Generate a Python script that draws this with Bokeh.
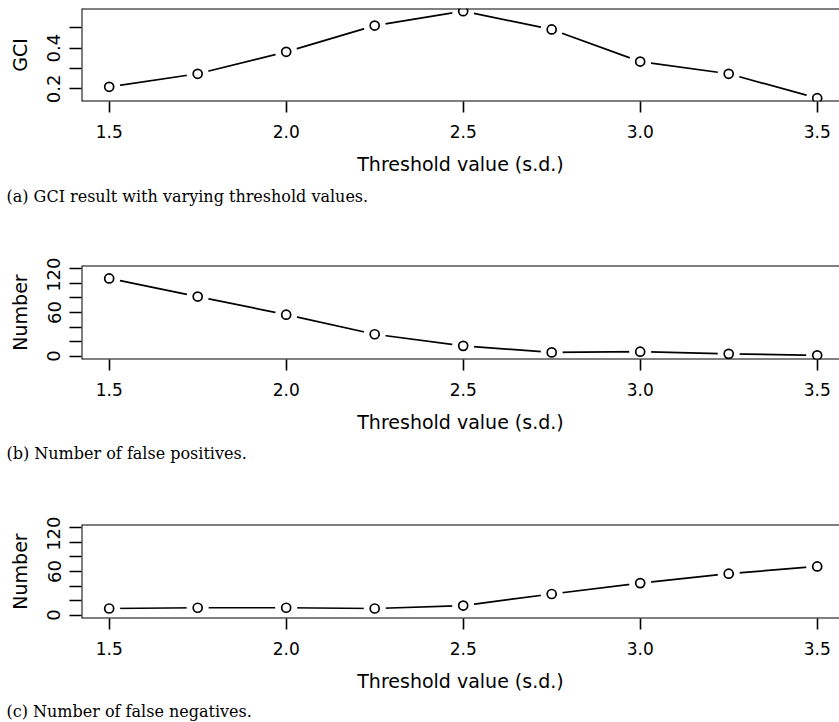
from bokeh.plotting import figure
from bokeh.layouts import column
from bokeh.models import Range1d, FixedTicker, NumeralTickFormatter, Span, Title
from bokeh.embed import file_html
from bokeh.resources import INLINE

thresholds = [1.5, 1.75, 2.0, 2.25, 2.5, 2.75, 3.0, 3.25, 3.5]
gci = [0.21, 0.274, 0.382, 0.511, 0.582, 0.492, 0.334, 0.274, 0.154]
false_pos = [107, 82, 57, 30, 14, 5, 6, 3, 1]
false_neg = [9, 10, 10, 9, 13, 29, 44, 57, 67]

x_ticks = [1.5, 2.0, 2.5, 3.0, 3.5]
gci_major = [0.2, 0.4]
gci_minor = [0.3, 0.5]
num_major = [0, 60, 120]
num_minor = [20, 40, 80, 100]

x_title = "Threshold value (s.d.)"
captions = ["(a) GCI result with varying threshold values.",
            "(b) Number of false positives.",
            "(c) Number of false negatives."]

SANS = "DejaVu Sans"
SERIF = "DejaVu Serif"
X0, X1 = 1.4218, 3.563


def panel(ys, yr, major, minor, yfmt, ylabel, caption, frame_h, bottom, cap_standoff):
    p = figure(frame_width=758, frame_height=frame_h, min_border_left=81,
               min_border_right=0, min_border_top=8, min_border_bottom=bottom,
               x_range=Range1d(X0, X1), y_range=Range1d(*yr),
               output_backend="svg", toolbar_location=None,
               background_fill_color="white", border_fill_color="white")
    p.outline_line_color = None
    p.grid.visible = False

    xa = p.xaxis[0]
    xa.ticker = FixedTicker(ticks=x_ticks)
    xa.formatter = NumeralTickFormatter(format="0.0")
    xa.axis_line_color = None
    xa.major_tick_in = 0
    xa.major_tick_out = 11
    xa.major_tick_line_width = 1.6
    xa.minor_tick_line_color = None
    xa.major_label_text_font = SANS
    xa.major_label_text_font_size = "17px"
    xa.major_label_text_color = "black"
    xa.major_label_standoff = 12
    xa.axis_label = x_title
    xa.axis_label_text_font = SANS
    xa.axis_label_text_font_size = "19px"
    xa.axis_label_text_font_style = "normal"
    xa.axis_label_text_color = "black"
    xa.axis_label_standoff = 12

    ya = p.yaxis[0]
    ya.ticker = FixedTicker(ticks=major, minor_ticks=minor)
    ya.formatter = NumeralTickFormatter(format=yfmt)
    ya.axis_line_color = None
    ya.major_tick_in = 0
    ya.major_tick_out = 12
    ya.minor_tick_in = 0
    ya.minor_tick_out = 12
    ya.major_tick_line_width = 1.6
    ya.minor_tick_line_width = 1.6
    ya.minor_tick_line_color = "black"
    ya.major_label_orientation = "vertical"
    ya.major_label_text_font = SANS
    ya.major_label_text_font_size = "18px"
    ya.major_label_text_color = "black"
    ya.major_label_standoff = 9
    ya.axis_label = ylabel
    ya.axis_label_text_font = SANS
    ya.axis_label_text_font_size = "19px"
    ya.axis_label_text_font_style = "normal"
    ya.axis_label_text_color = "black"
    ya.axis_label_standoff = 14

    p.line(thresholds, ys, line_color="black", line_width=1.7)
    p.scatter(thresholds, ys, size=22, fill_color="white", line_color=None)
    p.scatter(thresholds, ys, size=9, fill_color="white", line_color="black",
              line_width=1.7)

    for loc in yr:
        p.add_layout(Span(location=loc, dimension="width", line_color="black",
                          line_width=2))
    p.add_layout(Span(location=X0, dimension="height", line_color="black",
                      line_width=2))

    p.add_layout(Title(text=caption, align="left", offset=-75,
                       standoff=cap_standoff, text_font=SERIF,
                       text_font_size="16px", text_font_style="normal",
                       text_color="black"), "below")
    return p


p1 = panel(gci, (0.1377, 0.595), gci_major, gci_minor, "0.0", "GCI",
           captions[0], 93, 156, 15)
p2 = panel(false_pos, (-4.8, 124.8), num_major, num_minor, "0", "Number",
           captions[1], 94, 157, 12)
p3 = panel(false_neg, (-4.8, 124.8), num_major, num_minor, "0", "Number",
           captions[2], 94, 104, 11)

layout = column(p1, p2, p3, spacing=0)
open("out.html", "w").write(file_html(layout, INLINE))
